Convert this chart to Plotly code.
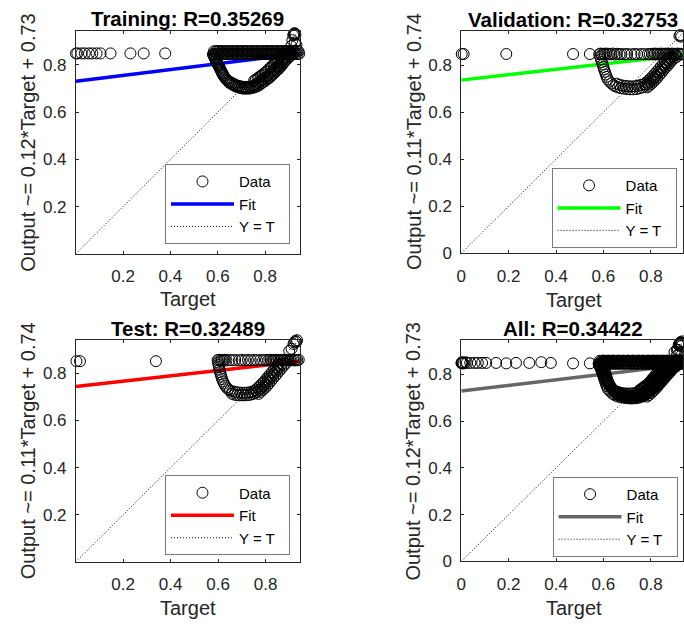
import plotly.graph_objects as go

# ---------------- chart text / fit values ----------------
panel_titles = ["Training: R=0.35269", "Validation: R=0.32753", "Test: R=0.32489", "All: R=0.34422"]
y_labels = ["Output ~= 0.12*Target + 0.73", "Output ~= 0.11*Target + 0.74",
            "Output ~= 0.11*Target + 0.74", "Output ~= 0.12*Target + 0.73"]
x_label = "Target"
legend_names = ["Data", "Fit", "Y = T\u00a0\u00a0"]
fit_slope = [0.124, 0.114, 0.114, 0.120]
fit_intercept = [0.731, 0.736, 0.744, 0.729]
axis_min = [0.001, 0.0, 0.001, 0.0]
axis_max = [0.946, 0.947, 0.944, 0.947]
tick_values = [[0.2, 0.4, 0.6, 0.8], [0, 0.2, 0.4, 0.6, 0.8],
               [0.2, 0.4, 0.6, 0.8], [0, 0.2, 0.4, 0.6, 0.8]]

# ---------------- data (target, output) ----------------
train_sparse = [(0.001, 0.849), (0.007, 0.849), (0.024, 0.849), (0.038, 0.849), (0.056, 0.849), (0.070, 0.849),
                (0.088, 0.849), (0.105, 0.849), (0.147, 0.849), (0.231, 0.849), (0.287, 0.849), (0.378, 0.849)]
train_band_top = [
    (0.580, 0.846), (0.587, 0.848), (0.594, 0.847), (0.601, 0.846), (0.608, 0.848), (0.615, 0.847), (0.622, 0.846),
    (0.629, 0.848), (0.636, 0.847), (0.643, 0.846), (0.650, 0.848), (0.657, 0.847), (0.664, 0.846), (0.671, 0.848),
    (0.678, 0.847), (0.685, 0.846), (0.692, 0.848), (0.699, 0.847), (0.706, 0.846), (0.713, 0.848), (0.720, 0.847),
    (0.727, 0.846), (0.734, 0.848), (0.741, 0.847), (0.748, 0.846), (0.755, 0.848), (0.762, 0.847), (0.769, 0.846),
    (0.776, 0.848), (0.783, 0.847), (0.790, 0.846), (0.797, 0.848), (0.804, 0.847), (0.811, 0.846), (0.818, 0.848),
    (0.825, 0.847), (0.832, 0.846), (0.839, 0.848), (0.846, 0.847), (0.853, 0.846), (0.860, 0.848), (0.867, 0.847),
    (0.874, 0.846), (0.881, 0.848), (0.888, 0.847), (0.895, 0.846), (0.902, 0.848), (0.909, 0.847), (0.916, 0.846),
    (0.923, 0.848), (0.930, 0.847), (0.937, 0.846), (0.944, 0.848),
    (0.584, 0.858), (0.591, 0.857), (0.598, 0.859), (0.605, 0.858), (0.612, 0.857), (0.619, 0.859), (0.626, 0.858),
    (0.633, 0.857), (0.640, 0.859), (0.647, 0.858), (0.654, 0.857), (0.661, 0.859), (0.668, 0.858), (0.675, 0.857),
    (0.682, 0.859), (0.689, 0.858), (0.696, 0.857), (0.703, 0.859), (0.710, 0.858), (0.717, 0.857), (0.724, 0.859),
    (0.731, 0.858), (0.738, 0.857), (0.745, 0.859), (0.752, 0.858), (0.759, 0.857), (0.766, 0.859), (0.773, 0.858),
    (0.780, 0.857), (0.787, 0.859), (0.794, 0.858), (0.801, 0.857), (0.808, 0.859), (0.815, 0.858), (0.822, 0.857),
    (0.829, 0.859), (0.836, 0.858), (0.843, 0.857), (0.850, 0.859), (0.857, 0.858), (0.864, 0.857), (0.871, 0.859),
    (0.878, 0.858), (0.885, 0.857), (0.892, 0.859), (0.899, 0.858), (0.906, 0.857), (0.913, 0.859), (0.920, 0.858),
    (0.927, 0.857), (0.934, 0.859), (0.941, 0.858)]
train_left_arm = [
    (0.581, 0.843), (0.583, 0.839), (0.585, 0.834), (0.587, 0.830), (0.589, 0.826), (0.591, 0.821), (0.593, 0.817),
    (0.596, 0.812), (0.598, 0.808), (0.600, 0.803), (0.602, 0.799), (0.604, 0.795), (0.607, 0.790), (0.609, 0.785),
    (0.611, 0.780), (0.614, 0.776), (0.616, 0.771), (0.618, 0.766), (0.621, 0.762), (0.623, 0.757), (0.625, 0.753),
    (0.629, 0.748), (0.632, 0.744), (0.636, 0.740), (0.639, 0.736), (0.643, 0.732), (0.646, 0.728), (0.650, 0.724)]
train_bottom = [
    (0.654, 0.727), (0.662, 0.722), (0.670, 0.718), (0.678, 0.714), (0.686, 0.712), (0.694, 0.710), (0.702, 0.708),
    (0.710, 0.707), (0.718, 0.707), (0.726, 0.707), (0.734, 0.708), (0.742, 0.709), (0.750, 0.711), (0.758, 0.714),
    (0.658, 0.719), (0.666, 0.714), (0.674, 0.710), (0.682, 0.707), (0.690, 0.704), (0.698, 0.702), (0.706, 0.700),
    (0.714, 0.700), (0.722, 0.700), (0.730, 0.700), (0.738, 0.701), (0.746, 0.703), (0.754, 0.705), (0.762, 0.708)]
train_right_arm = [
    (0.764, 0.720), (0.771, 0.725), (0.779, 0.731), (0.786, 0.736), (0.794, 0.741), (0.801, 0.747), (0.809, 0.752),
    (0.815, 0.758), (0.821, 0.764), (0.828, 0.770), (0.834, 0.776), (0.840, 0.782), (0.847, 0.788), (0.853, 0.794),
    (0.858, 0.800), (0.863, 0.806), (0.868, 0.813), (0.873, 0.819), (0.878, 0.825), (0.885, 0.832), (0.891, 0.839),
    (0.898, 0.845), (0.905, 0.852),
    (0.753, 0.733), (0.760, 0.738), (0.768, 0.744), (0.775, 0.749), (0.783, 0.754), (0.790, 0.760), (0.798, 0.765),
    (0.804, 0.771), (0.810, 0.777), (0.817, 0.783), (0.823, 0.789), (0.829, 0.795), (0.836, 0.801), (0.842, 0.807),
    (0.847, 0.813), (0.852, 0.819), (0.857, 0.826), (0.862, 0.832), (0.867, 0.838), (0.874, 0.845),
    (0.771, 0.712), (0.778, 0.717), (0.786, 0.723), (0.793, 0.728), (0.801, 0.733), (0.808, 0.739), (0.816, 0.744),
    (0.822, 0.750), (0.828, 0.756), (0.835, 0.762), (0.841, 0.768), (0.847, 0.774), (0.854, 0.780), (0.860, 0.786),
    (0.865, 0.792), (0.870, 0.798), (0.875, 0.805), (0.880, 0.811), (0.885, 0.817), (0.892, 0.824), (0.898, 0.831),
    (0.905, 0.837), (0.912, 0.844)]
train_cluster = [(0.921, 0.930), (0.924, 0.935), (0.926, 0.932), (0.919, 0.926), (0.928, 0.928),
                 (0.915, 0.905), (0.925, 0.895), (0.932, 0.885), (0.910, 0.880)]

val_sparse = [(0.002, 0.847), (0.010, 0.847), (0.190, 0.847), (0.472, 0.847), (0.543, 0.847)]
val_band_top = [
    (0.582, 0.846), (0.588, 0.849), (0.594, 0.845), (0.600, 0.848), (0.606, 0.846), (0.612, 0.849), (0.618, 0.845),
    (0.625, 0.848), (0.632, 0.846), (0.640, 0.849), (0.648, 0.845), (0.657, 0.848),
    (0.668, 0.846), (0.676, 0.847), (0.690, 0.846), (0.700, 0.847), (0.718, 0.846), (0.732, 0.847), (0.742, 0.846),
    (0.760, 0.847), (0.772, 0.846), (0.788, 0.847), (0.796, 0.846),
    (0.806, 0.848), (0.812, 0.845), (0.818, 0.849), (0.824, 0.846), (0.830, 0.848), (0.836, 0.845), (0.842, 0.849),
    (0.848, 0.846), (0.854, 0.848), (0.860, 0.845), (0.866, 0.849), (0.872, 0.846), (0.878, 0.848), (0.884, 0.845),
    (0.890, 0.849), (0.896, 0.846), (0.902, 0.848), (0.908, 0.845), (0.914, 0.849), (0.920, 0.846), (0.926, 0.848),
    (0.932, 0.845), (0.938, 0.849), (0.944, 0.846)]
val_left_arm = [
    (0.586, 0.835), (0.590, 0.824), (0.593, 0.813), (0.597, 0.802), (0.600, 0.792), (0.603, 0.781), (0.607, 0.771),
    (0.610, 0.760), (0.614, 0.750), (0.618, 0.739), (0.626, 0.730), (0.634, 0.722), (0.642, 0.715)]
val_bottom = [
    (0.650, 0.710), (0.661, 0.705), (0.674, 0.702), (0.687, 0.700), (0.700, 0.698), (0.713, 0.697), (0.726, 0.697),
    (0.739, 0.698), (0.752, 0.701), (0.765, 0.705),
    (0.655, 0.721), (0.668, 0.716), (0.681, 0.713), (0.694, 0.711), (0.707, 0.710), (0.720, 0.709), (0.733, 0.710),
    (0.746, 0.712), (0.759, 0.716)]
val_right_arm = [
    (0.778, 0.712), (0.787, 0.719), (0.796, 0.727), (0.805, 0.736), (0.814, 0.745), (0.822, 0.754), (0.831, 0.765),
    (0.840, 0.775), (0.848, 0.786), (0.857, 0.796), (0.866, 0.806), (0.875, 0.816), (0.883, 0.826), (0.892, 0.835),
    (0.903, 0.842),
    (0.772, 0.719), (0.781, 0.726), (0.790, 0.734), (0.799, 0.743), (0.808, 0.752), (0.816, 0.761), (0.825, 0.772),
    (0.834, 0.782), (0.842, 0.793), (0.851, 0.803), (0.860, 0.813), (0.869, 0.823), (0.877, 0.833),
    (0.784, 0.705), (0.793, 0.712), (0.802, 0.720), (0.811, 0.729), (0.820, 0.738), (0.828, 0.747), (0.837, 0.758),
    (0.846, 0.768), (0.854, 0.779), (0.863, 0.789), (0.872, 0.799), (0.881, 0.809), (0.889, 0.819), (0.898, 0.828),
    (0.909, 0.835)]
val_cluster = [(0.925, 0.928), (0.921, 0.924), (0.929, 0.921)]

test_sparse = [(0.003, 0.852), (0.018, 0.852), (0.338, 0.852)]
test_band_top = [
    (0.598, 0.856), (0.604, 0.858), (0.610, 0.855), (0.616, 0.857), (0.622, 0.856), (0.628, 0.858), (0.635, 0.855),
    (0.648, 0.857), (0.660, 0.856), (0.672, 0.857), (0.688, 0.856), (0.700, 0.857), (0.714, 0.856), (0.726, 0.857),
    (0.738, 0.856), (0.752, 0.857), (0.764, 0.856), (0.778, 0.857), (0.790, 0.856), (0.802, 0.857), (0.812, 0.856),
    (0.820, 0.858), (0.826, 0.855), (0.832, 0.857), (0.838, 0.856), (0.844, 0.858), (0.850, 0.855), (0.856, 0.857),
    (0.862, 0.856), (0.868, 0.858), (0.874, 0.855), (0.880, 0.857), (0.886, 0.856), (0.892, 0.858), (0.898, 0.855),
    (0.904, 0.857), (0.910, 0.856), (0.916, 0.858), (0.922, 0.855), (0.928, 0.857), (0.934, 0.856), (0.940, 0.858)]
test_left_arm = [
    (0.600, 0.846), (0.602, 0.836), (0.604, 0.826), (0.606, 0.816), (0.608, 0.806), (0.611, 0.796), (0.614, 0.786),
    (0.617, 0.776), (0.621, 0.766), (0.625, 0.757), (0.630, 0.748), (0.636, 0.740), (0.643, 0.733), (0.650, 0.727)]
test_bottom = [
    (0.658, 0.714), (0.668, 0.710), (0.679, 0.708), (0.690, 0.707), (0.701, 0.707), (0.712, 0.707), (0.723, 0.708),
    (0.734, 0.709), (0.745, 0.712), (0.756, 0.716),
    (0.662, 0.724), (0.673, 0.721), (0.684, 0.719), (0.695, 0.718), (0.706, 0.718), (0.717, 0.718), (0.728, 0.719),
    (0.739, 0.721), (0.750, 0.724)]
test_right_arm = [
    (0.764, 0.721), (0.773, 0.730), (0.782, 0.738), (0.791, 0.747), (0.800, 0.756), (0.808, 0.766), (0.817, 0.777),
    (0.825, 0.787), (0.834, 0.798), (0.843, 0.808), (0.851, 0.819), (0.860, 0.829), (0.869, 0.840),
    (0.757, 0.729), (0.766, 0.738), (0.775, 0.746), (0.784, 0.755), (0.793, 0.764), (0.801, 0.774), (0.810, 0.785),
    (0.818, 0.795), (0.827, 0.806), (0.836, 0.816), (0.844, 0.827), (0.853, 0.837),
    (0.771, 0.713), (0.780, 0.722), (0.789, 0.730), (0.798, 0.739), (0.807, 0.748), (0.815, 0.758), (0.824, 0.769),
    (0.832, 0.779), (0.841, 0.790), (0.850, 0.800), (0.858, 0.811), (0.867, 0.821), (0.876, 0.832), (0.885, 0.842)]
test_cluster = [(0.926, 0.938), (0.930, 0.934), (0.922, 0.932), (0.933, 0.941), (0.918, 0.925),
                (0.900, 0.895), (0.910, 0.905)]

train_points = train_sparse + train_band_top + train_left_arm + train_bottom + train_right_arm + train_cluster
val_points = val_sparse + val_band_top + val_left_arm + val_bottom + val_right_arm + val_cluster
test_points = test_sparse + test_band_top + test_left_arm + test_bottom + test_right_arm + test_cluster
all_points = train_points + val_points + test_points
datasets = [train_points, val_points, test_points, all_points]

# ---------------- styling / layout ----------------
W, H = 684, 628
FONT = "Liberation Sans, Arial, Helvetica, sans-serif"
AX = "#262626"
fit_colors = ["#0000ff", "#00ff00", "#ff0000", "#666666"]
# axes boxes in px: left, top, right, bottom
boxes = [(71.6, 31.0, 297.3, 257.7), (460.3, 31.0, 686.6, 257.3),
         (71.6, 345.0, 297.3, 570.7), (460.3, 345.5, 686.6, 570.5)]
title_pos = [(184.5, 19.0), (573.5, 19.5), (184.5, 333.8), (573.5, 334.0)]
xlabel_pos = [(184.5, 304.0), (574.0, 304.5), (184.5, 617.5), (574.0, 618.0)]
ylabel_pos = [(23.0, 144.3), (412.0, 144.0), (23.0, 457.8), (411.5, 458.0)]
legend_right = [287.5, 677.5, 287.5, 678.5]
legend_mid = [207.5, 211.5, 523.8, 525.3]


def px_x(p):
    return p / W


def px_y(p):
    return 1 - p / H


fig = go.Figure()
annotations = []
layout = dict(width=W, height=H, margin=dict(l=0, r=0, t=0, b=0),
              paper_bgcolor="white", plot_bgcolor="white", showlegend=True)

for i in range(4):
    sfx = "" if i == 0 else str(i + 1)
    xa, ya, lg = "x" + sfx, "y" + sfx, "legend" + sfx
    lo, hi = axis_min[i], axis_max[i]
    L, T, R, B = boxes[i]
    # clip the right-column boxes at the page edge
    R_vis = min(R, W)
    hi_vis_x = lo + (hi - lo) * (R_vis - L) / (R - L)

    fig.add_trace(go.Scatter(x=[lo, hi], y=[lo, hi], mode="lines", name=legend_names[2],
                             line=dict(color="black", width=1, dash="1px,2px"),
                             xaxis=xa, yaxis=ya, legend=lg, legendrank=3, hoverinfo="skip"))
    fig.add_trace(go.Scatter(x=[lo, hi], y=[fit_intercept[i] + fit_slope[i] * lo, fit_intercept[i] + fit_slope[i] * hi],
                             mode="lines", name=legend_names[1],
                             line=dict(color=fit_colors[i], width=3.5),
                             xaxis=xa, yaxis=ya, legend=lg, legendrank=2, hoverinfo="skip"))
    fig.add_trace(go.Scatter(x=[p[0] for p in datasets[i]], y=[p[1] for p in datasets[i]],
                             mode="markers", name=legend_names[0], cliponaxis=False,
                             marker=dict(symbol="circle-open", size=11, color="black", line=dict(width=1)),
                             xaxis=xa, yaxis=ya, legend=lg, legendrank=1))

    common = dict(showline=True, linecolor=AX, linewidth=1, mirror="ticks", ticks="inside",
                  ticklen=3, tickwidth=1, tickcolor=AX, showgrid=False, zeroline=False,
                  tickfont=dict(family=FONT, size=17, color=AX), tickvals=tick_values[i],
                  fixedrange=True)
    layout["xaxis" + sfx] = dict(common, domain=[px_x(L), px_x(R_vis)], range=[lo, hi_vis_x],
                                 anchor=ya, ticklabelstandoff=7)
    layout["yaxis" + sfx] = dict(common, domain=[px_y(B), px_y(T)], range=[lo, hi],
                                 anchor=xa, ticklabelstandoff=5)
    layout[lg] = dict(x=px_x(legend_right[i]), y=px_y(legend_mid[i]), xanchor="right", yanchor="middle",
                      bgcolor="white", bordercolor="#7a7a7a", borderwidth=1,
                      font=dict(family=FONT, size=15, color="black"),
                      itemwidth=63, traceorder="normal", tracegroupgap=0)

    annotations.append(dict(text=panel_titles[i], x=px_x(title_pos[i][0]), y=px_y(title_pos[i][1]),
                            xref="paper", yref="paper", xanchor="center", yanchor="middle", showarrow=False,
                            font=dict(family=FONT, size=20.5, color="black", weight="bold")))
    annotations.append(dict(text=x_label, x=px_x(xlabel_pos[i][0]), y=px_y(xlabel_pos[i][1]),
                            xref="paper", yref="paper", xanchor="center", yanchor="middle", showarrow=False,
                            font=dict(family=FONT, size=20, color=AX)))
    annotations.append(dict(text=y_labels[i], x=px_x(ylabel_pos[i][0]), y=px_y(ylabel_pos[i][1]),
                            xref="paper", yref="paper", xanchor="center", yanchor="middle", showarrow=False,
                            textangle=-90, font=dict(family=FONT, size=20, color=AX)))

layout["annotations"] = annotations
fig.update_layout(**layout)
fig.write_html("out.html")
